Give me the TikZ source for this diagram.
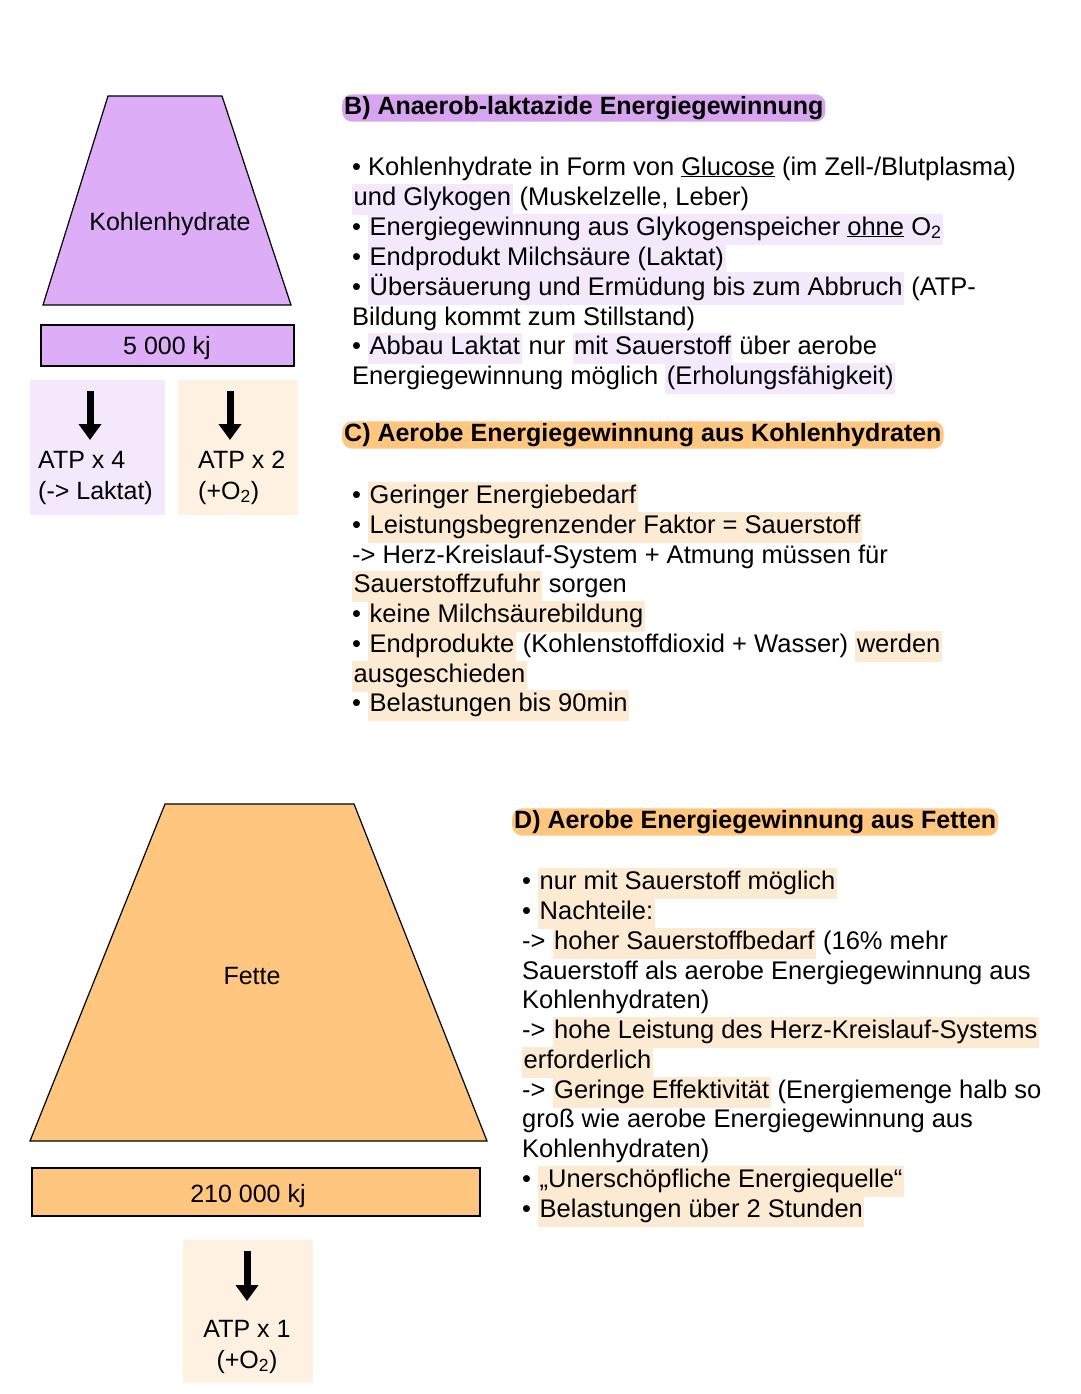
\documentclass[tikz,border=0pt]{standalone}
\usepackage{fontspec}
\setmainfont{Liberation Sans}
\usetikzlibrary{arrows.meta}
\definecolor{lila}{HTML}{DDADF7}
\definecolor{lilahead}{HTML}{D7A4F0}
\definecolor{lilalight}{HTML}{F4E8FC}
\definecolor{orng}{HTML}{FFC680}
\definecolor{orngline}{HTML}{FDEAD2}
\definecolor{orngbox}{HTML}{FEF1E2}
\newcommand{\hp}[1]{{\fboxsep=1.5pt\colorbox{lilalight}{\strut #1}}}
\newcommand{\ho}[1]{{\fboxsep=1.5pt\colorbox{orngline}{\strut #1}}}
\tikzset{
  txt/.style={anchor=base west,inner sep=0pt,font=\fontsize{25.5}{28}\selectfont},
  head/.style={anchor=west,inner sep=2pt,rounded corners=10pt,font=\fontsize{25}{28}\selectfont\bfseries},
  outl/.style={draw=black,line width=1.2pt},
  lbl/.style={font=\fontsize{25}{28}\selectfont},
  atp/.style={anchor=base west,inner sep=0pt,align=left,font=\fontsize{25}{31}\selectfont},
  blk/.style={line width=7pt,-{Triangle[width=22pt,length=16pt]}}
}
\begin{document}
\begin{tikzpicture}[x=1pt,y=-1pt]
\useasboundingbox[fill=white] (0,0) rectangle (1080,1394);
%% left column, Kohlenhydrate
\draw[outl,fill=lila] (108,96) -- (222,96) -- (291,305) -- (43,305) -- cycle;
\node[lbl] (kh) at (170,224) {Kohlenhydrate};
\draw[outl,fill=lila] (41,325) rectangle (294,366);
\node[lbl] (kj1) at (167,348) {5 000 kj};
\fill[lilalight] (30,380) rectangle (165,515);
\fill[orngbox] (178,380) rectangle (298,515);
\coordinate (a1) at (90,391); \coordinate (b1) at (90,440);
\coordinate (a2) at (230,391); \coordinate (b2) at (230,440);
\draw[blk] (a1) -- (b1);
\draw[blk] (a2) -- (b2);
\node[atp] (atp4) at (38,499) {ATP x 4\\(-> Laktat)};
\node[atp] (atp2) at (198,499) {ATP x 2\\(+O\textsubscript{2})};
%% left column, Fette
\draw[outl,fill=orng] (165,804) -- (354,804) -- (487,1141) -- (30,1141) -- cycle;
\node[lbl] (ft) at (252,976) {Fette};
\draw[outl,fill=orng] (32,1168) rectangle (480,1216);
\node[lbl] (kj2) at (248,1196) {210 000 kj};
\fill[orngbox] (183,1240) rectangle (313,1383);
\coordinate (a3) at (247,1251); \coordinate (b3) at (247,1301);
\draw[blk] (a3) -- (b3);
\node[atp,anchor=base,align=center] (atp1) at (247,1368) {ATP x 1\\(+O\textsubscript{2})};
%% B) Anaerob-laktazide Energiegewinnung
\node[head,fill=lilahead] (hB) at (342,108) {B) Anaerob-laktazide Energiegewinnung};
\node[txt] (b1l) at (352,175) {• Kohlenhydrate in Form von \underline{Glucose} (im Zell-/Blutplasma)};
\node[txt] (b2l) at (352,205) {\hp{und Glykogen} (Muskelzelle, Leber)};
\node[txt] (b3l) at (352,235) {• \hp{Energiegewinnung aus Glykogenspeicher \underline{ohne} O\textsubscript{2}}};
\node[txt] (b4l) at (352,265) {• \hp{Endprodukt Milchsäure (Laktat)}};
\node[txt] (b5l) at (352,295) {• \hp{Übersäuerung und Ermüdung bis zum Abbruch} (ATP-};
\node[txt] (b6l) at (352,325) {Bildung kommt zum Stillstand)};
\node[txt] (b7l) at (352,354) {• \hp{Abbau Laktat} nur \hp{mit Sauerstoff} über aerobe};
\node[txt] (b8l) at (352,384) {Energiegewinnung möglich \hp{(Erholungsfähigkeit)}};
%% C) Aerobe Energiegewinnung aus Kohlenhydraten
\node[head,fill=orng] (hC) at (342,435) {C) Aerobe Energiegewinnung aus Kohlenhydraten};
\node[txt] (c1l) at (352,503) {• \ho{Geringer Energiebedarf}};
\node[txt] (c2l) at (352,533) {• \ho{Leistungsbegrenzender Faktor = Sauerstoff}};
\node[txt] (c3l) at (352,563) {-> Herz-Kreislauf-System + Atmung müssen für};
\node[txt] (c4l) at (352,592) {\ho{Sauerstoffzufuhr} sorgen};
\node[txt] (c5l) at (352,622) {• \ho{keine Milchsäurebildung}};
\node[txt] (c6l) at (352,652) {• \ho{Endprodukte} (Kohlenstoffdioxid + Wasser) \ho{werden}};
\node[txt] (c7l) at (352,682) {\ho{ausgeschieden}};
\node[txt] (c8l) at (352,711) {• \ho{Belastungen bis 90min}};
%% D) Aerobe Energiegewinnung aus Fetten
\node[head,fill=orng] (hD) at (512,822) {D) Aerobe Energiegewinnung aus Fetten};
\node[txt] (d1l) at (522,889) {• \ho{nur mit Sauerstoff möglich}};
\node[txt] (d2l) at (522,919) {• \ho{Nachteile:}};
\node[txt] (d3l) at (522,949) {-> \ho{hoher Sauerstoffbedarf} (16\% mehr};
\node[txt] (d4l) at (522,979) {Sauerstoff als aerobe Energiegewinnung aus};
\node[txt] (d5l) at (522,1008) {Kohlenhydraten)};
\node[txt] (d6l) at (522,1038) {-> \ho{hohe Leistung des Herz-Kreislauf-Systems}};
\node[txt] (d7l) at (522,1068) {\ho{erforderlich}};
\node[txt] (d8l) at (522,1098) {-> \ho{Geringe Effektivität} (Energiemenge halb so};
\node[txt] (d9l) at (522,1127) {groß wie aerobe Energiegewinnung aus};
\node[txt] (d10l) at (522,1157) {Kohlenhydraten)};
\node[txt] (d11l) at (522,1187) {• \ho{„Unerschöpfliche Energiequelle“}};
\node[txt] (d12l) at (522,1217) {• \ho{Belastungen über 2 Stunden}};
\end{tikzpicture}
\end{document}
